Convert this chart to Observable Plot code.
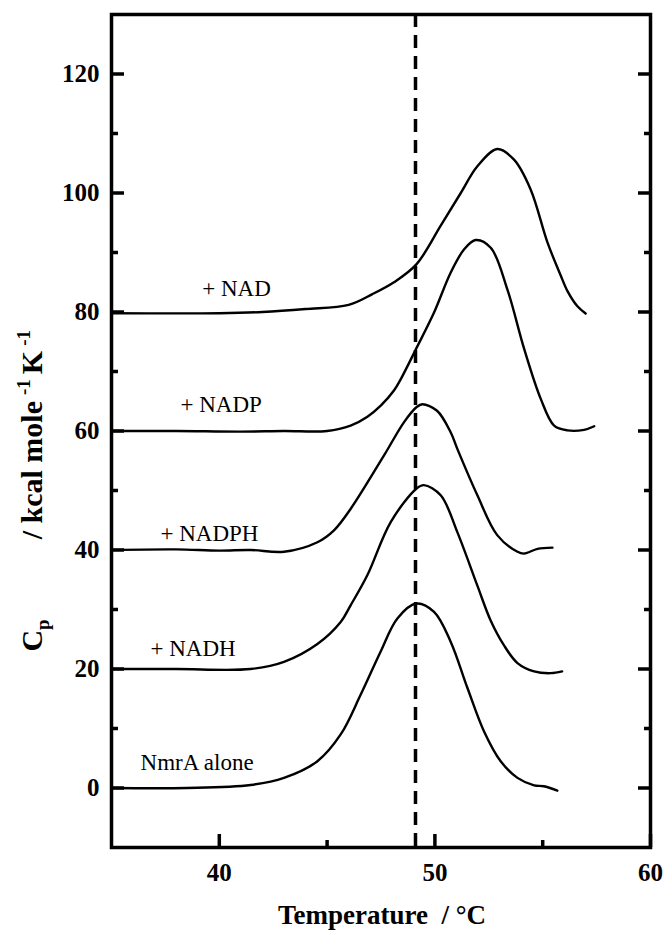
<!DOCTYPE html>
<html><head><meta charset="utf-8">
<script src="https://cdn.jsdelivr.net/npm/d3@7"></script>
<script src="https://cdn.jsdelivr.net/npm/@observablehq/plot@0.6"></script>
<style>body{margin:0;background:#fff} svg{display:block}</style>
</head><body><div id="chart"></div>
<script>
// ---- scales / ticks ----
const xDomain = [35, 60];
const yDomain = [-10, 130];
const xMajor = [40, 50, 60];
const xMinor = [45, 55];
const yMajor = [0, 20, 40, 60, 80, 100, 120];
const yMinor = [10, 30, 50, 70, 90, 110];
const refTemp = [49.1];

// ---- series: [temperature °C, Cp] ----
const nmrAlone = [[35,0],[38.5,0],[41.45,0.5],[43.0,1.7],[44.55,4.5],[45.63,9.0],[46.56,15.7],[47.48,22.9],[48.26,28.5],[49.14,31.0],[49.96,29.6],[50.73,24.6],[51.51,16.8],[52.28,9.5],[53.05,4.5],[53.83,1.7],[54.6,0.45],[55.05,0.3],[55.68,-0.45]];
const plusNADH = [[35,20],[38,20],[41.45,20.0],[43.0,21.2],[44.55,24.2],[45.63,27.9],[46.09,30.7],[46.87,35.8],[47.95,44.7],[49.14,50.3],[49.49,50.9],[50.27,49.2],[51.04,43.0],[51.97,34.0],[52.58,28.2],[53.2,24.0],[53.83,21.0],[54.6,19.6],[55.37,19.3],[55.9,19.6]];
const plusNADPH = [[35,40],[38,40.1],[40,39.9],[41.45,40.0],[43.0,39.7],[44.55,41.3],[45.32,43.3],[46.09,46.9],[47.64,55.9],[48.57,61.5],[49.14,64.0],[49.42,64.5],[50.1,63.4],[50.73,59.8],[51.04,57.0],[51.97,49.2],[52.89,42.5],[53.83,39.7],[54.14,39.4],[54.76,40.2],[55.45,40.4]];
const plusNADP = [[35,60],[38,60],[41,59.9],[43,60],[45.0,60.0],[46.09,60.9],[46.87,62.4],[47.5,64.3],[48.1,66.8],[48.4,68.6],[49.1,73.6],[49.96,79.9],[50.73,86.6],[51.35,90.5],[51.89,92.1],[52.59,90.8],[53.36,83.8],[54.14,73.8],[54.91,65.4],[55.53,60.9],[56.15,60.1],[56.92,60.2],[57.39,60.8]];
const plusNAD = [[35,79.8],[40,79.8],[42,80.0],[44,80.5],[46,81.2],[47.1,83.0],[48.1,85.0],[49.14,88.0],[50.27,94.5],[51.2,100.0],[51.97,104.5],[52.9,107.4],[53.67,105.6],[54.44,100.6],[55.22,91.7],[55.84,86.1],[56.15,83.5],[56.6,81.0],[56.99,79.75]];

// ---- curve labels ----
const labelText = ["+ NAD", "+ NADP", "+ NADPH", "+ NADH", "NmrA alone"];
const labelT = [39.21, 38.2, 37.27, 36.81, 36.35];
const labelCp = [83.9, 64.4, 42.75, 23.5, 4.2];

const xTitle = "Temperature  / °C";

// ---- build tables ----
const seriesList = [
  {name: "NmrA alone", pts: nmrAlone},
  {name: "+NADH", pts: plusNADH},
  {name: "+NADPH", pts: plusNADPH},
  {name: "+NADP", pts: plusNADP},
  {name: "+NAD", pts: plusNAD}
];
const rows = seriesList.flatMap(s => s.pts.map(([t, v]) => ({series: s.name, t, v})));
const labels = labelText.map((s, i) => ({s, t: labelT[i], v: labelCp[i]}));

const FONT = "Liberation Serif";
const TW = 3.5;

const plot = Plot.plot({
  width: 665, height: 940,
  marginLeft: 111, marginRight: 15, marginTop: 14, marginBottom: 93,
  x: {domain: xDomain},
  y: {domain: yDomain},
  marks: [
    Plot.ruleX(refTemp, {stroke: "#000", strokeWidth: 3.5, strokeDasharray: "13,8"}),
    Plot.line(rows, {x: "t", y: "v", z: "series", stroke: "#000", strokeWidth: 2.4, curve: "catmull-rom"}),
    Plot.text(labels, {x: "t", y: "v", text: "s", textAnchor: "start", fontSize: 23, fill: "#000", fontFamily: FONT}),
    // inward ticks
    Plot.axisY(yMajor, {anchor: "left", tickSize: 13, dx: 13, fill: "none", stroke: "#000", strokeWidth: TW, label: null}),
    Plot.axisY(yMinor, {anchor: "left", tickSize: 7, dx: 7, fill: "none", stroke: "#000", strokeWidth: TW, label: null}),
    Plot.axisY(yMajor, {anchor: "right", tickSize: 13, dx: -13, fill: "none", stroke: "#000", strokeWidth: TW, label: null}),
    Plot.axisY(yMinor, {anchor: "right", tickSize: 7, dx: -7, fill: "none", stroke: "#000", strokeWidth: TW, label: null}),
    Plot.axisX(xMajor, {anchor: "bottom", tickSize: 13, dy: -13, fill: "none", stroke: "#000", strokeWidth: TW, label: null}),
    Plot.axisX(xMinor, {anchor: "bottom", tickSize: 7, dy: -7, fill: "none", stroke: "#000", strokeWidth: TW, label: null}),
    // tick labels
    Plot.axisY(yMajor, {anchor: "left", tickSize: 0, tickPadding: 12, fontSize: 25, fontWeight: "bold", fill: "#000", label: null, fontFamily: FONT}),
    Plot.axisX(xMajor, {anchor: "bottom", tickSize: 0, tickPadding: 16, fontSize: 25, fontWeight: "bold", fill: "#000", label: null, fontFamily: FONT}),
    Plot.text([xTitle], {frameAnchor: "bottom", dx: 1, dy: 76, text: d => d, fontSize: 27, fontWeight: "bold", fill: "#000", fontFamily: FONT}),
    Plot.frame({stroke: "#000", strokeWidth: 3.5})
  ]
});

// y-axis title with subscript / superscripts
const svg = d3.select(plot);
svg.attr("font-family", FONT);
const yt = svg.append("text")
  .attr("transform", "translate(42,330) rotate(-90)")
  .attr("text-anchor", "end")
  .attr("font-family", FONT)
  .attr("font-weight", "bold")
  .attr("font-size", 30)
  .attr("fill", "#000");
yt.append("tspan").text("C");
yt.append("tspan").attr("font-size", 19).attr("dy", 7).text("p");
yt.append("tspan").attr("dy", -7).attr("dx", 80).text("/ kcal mole");
yt.append("tspan").attr("font-size", 19).attr("dy", -12).attr("dx", 6).text("-1");
yt.append("tspan").attr("dy", 12).attr("dx", 5).text("K");
yt.append("tspan").attr("font-size", 19).attr("dy", -12).attr("dx", 5).text("-1");
svg.selectAll("text").attr("font-family", FONT);

document.getElementById("chart").appendChild(plot);
</script>
</body></html>
